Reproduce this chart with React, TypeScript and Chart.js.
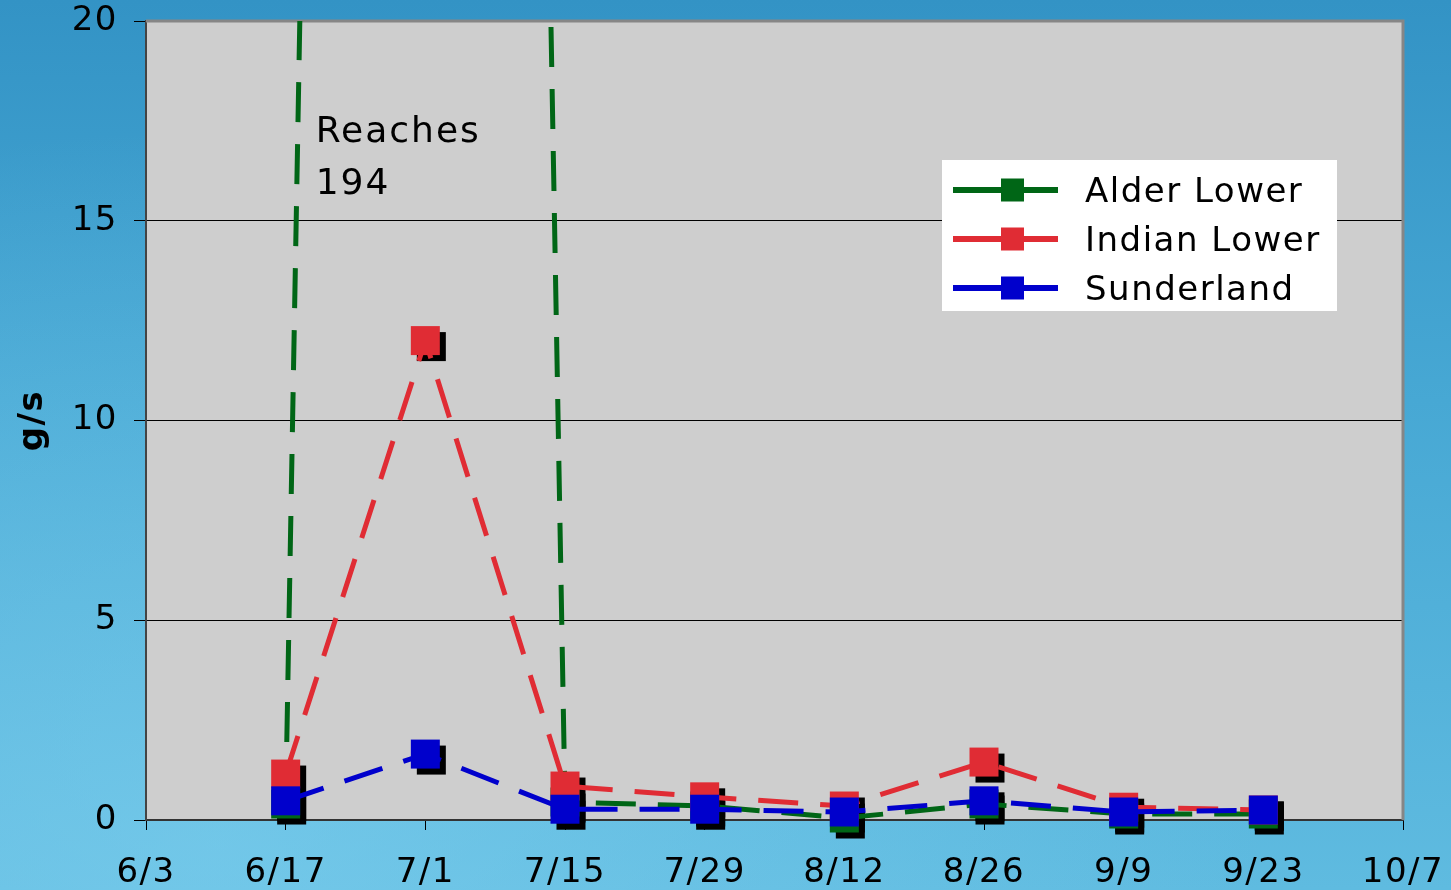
import React, { useEffect, useRef } from "react";
import { Chart, registerables } from "chart.js";

Chart.register(...registerables);

const tickLabels = ["6/3", "6/17", "7/1", "7/15", "7/29", "8/12", "8/26", "9/9", "9/23", "10/7"];
const alderLower = [null, 0.4, 194, 0.45, 0.35, 0.05, 0.4, 0.15, 0.15, null];
const indianLower = [null, 1.15, 12.0, 0.85, 0.58, 0.35, 1.45, 0.32, 0.25, null];
const sunderland = [null, 0.48, 1.65, 0.27, 0.27, 0.2, 0.48, 0.2, 0.25, null];
const seriesNames = ["Alder Lower", "Indian Lower", "Sunderland"];
const seriesColors = ["#006616", "#e02c34", "#0000cc"];
const yMin = 0;
const yMax = 20;
const yStep = 5;
const annotationLines = ["Reaches", "194"];
const yTitle = "g/s";

const FONT = '"DejaVu Sans", Verdana, sans-serif';

const bgPlugin = {
  id: "plotBg",
  beforeDraw(chart: any) {
    const { ctx, chartArea: ca } = chart;
    ctx.letterSpacing = "1.5px";
    ctx.save();
    ctx.fillStyle = "#cecece";
    ctx.fillRect(ca.left, ca.top, ca.right - ca.left, ca.bottom - ca.top);
    ctx.restore();
  },
  beforeDatasetsDraw(chart: any) {
    const { ctx, chartArea: ca } = chart;
    ctx.save();
    ctx.strokeStyle = "#868686";
    ctx.lineWidth = 3;
    ctx.beginPath();
    ctx.moveTo(ca.left, ca.top);
    ctx.lineTo(ca.right, ca.top);
    ctx.lineTo(ca.right, ca.bottom);
    ctx.stroke();
    // marker shadows
    ctx.fillStyle = "#000";
    chart.data.datasets.forEach((ds: any, i: number) => {
      const meta = chart.getDatasetMeta(i);
      meta.data.forEach((pt: any, j: number) => {
        const v = ds.data[j];
        if (v == null || v > yMax || v < yMin) return;
        ctx.fillRect(pt.x + 6 - 14.5, pt.y + 6 - 14.5, 29, 29);
      });
    });
    ctx.restore();
  },
  afterDraw(chart: any) {
    const { ctx, chartArea: ca, scales } = chart;
    ctx.save();
    // annotation
    ctx.letterSpacing = "2px";
    ctx.fillStyle = "#000";
    ctx.font = `36px ${FONT}`;
    ctx.textAlign = "left";
    ctx.textBaseline = "alphabetic";
    const ax = scales.x.getPixelForValue(1) + 30;
    annotationLines.forEach((t, i) => {
      ctx.fillText(t, ax, ca.top + 121 + i * 52);
    });
    // legend
    ctx.letterSpacing = "1.5px";
    const lx = 942, ly = 160, lw = 395, lh = 151;
    ctx.fillStyle = "#fff";
    ctx.fillRect(lx, ly, lw, lh);
    chart.data.datasets.forEach((ds: any, i: number) => {
      const cy = ly + 30 + i * 49;
      ctx.strokeStyle = ds.borderColor;
      ctx.lineWidth = 6;
      ctx.setLineDash([]);
      ctx.beginPath();
      ctx.moveTo(lx + 11, cy);
      ctx.lineTo(lx + 116, cy);
      ctx.stroke();
      ctx.fillStyle = ds.borderColor;
      ctx.fillRect(lx + 59, cy - 11.5, 23, 23);
      ctx.fillStyle = "#000";
      ctx.font = `34px ${FONT}`;
      ctx.fillText(ds.label, lx + 143, cy + 12);
    });
    ctx.restore();
  },
};

export default function App() {
  const ref = useRef<HTMLCanvasElement | null>(null);
  useEffect(() => {
    if (!ref.current) return;
    const mk = (label: string, data: any[], color: string, order: number) => ({
      label,
      data,
      borderColor: color,
      backgroundColor: color,
      borderWidth: 5,
      borderDash: [40, 22],
      borderCapStyle: "butt",
      pointStyle: "rect",
      pointRadius: 20.5,
      pointHoverRadius: 20.5,
      pointBorderWidth: 0,
      pointBackgroundColor: color,
      tension: 0,
      order,
      clip: { left: 40, top: 0, right: 40, bottom: 40 },
    });
    const chart = new Chart(ref.current, {
      type: "line",
      data: {
        labels: tickLabels,
        datasets: [
          mk(seriesNames[0], alderLower, seriesColors[0], 3),
          mk(seriesNames[1], indianLower, seriesColors[1], 2),
          mk(seriesNames[2], sunderland, seriesColors[2], 1),
        ] as any,
      },
      options: {
        animation: false,
        responsive: false,
        devicePixelRatio: 1,
        layout: { padding: { top: 21, right: 48, bottom: 0, left: 0 } },
        plugins: { legend: { display: false }, tooltip: { enabled: false } },
        events: [],
        scales: {
          x: {
            type: "category",
            offset: false,
            grid: { drawOnChartArea: false, color: "#000", tickColor: "#000", tickLength: 10, lineWidth: 1 },
            border: { color: "#333", width: 2 },
            ticks: { color: "#000", font: { family: FONT, size: 34 }, padding: 23, maxRotation: 0, autoSkip: false },
            afterFit: (s: any) => {
              s.height = 70;
              s.paddingLeft = 0;
              s.paddingRight = 0;
            },
          },
          y: {
            type: "linear",
            min: yMin,
            max: yMax,
            ticks: { stepSize: yStep, color: "#000", font: { family: FONT, size: 34 }, padding: 16 },
            grid: {
              color: (c: any) => (c.tick && c.tick.value > yMin && c.tick.value < yMax ? "#000" : "rgba(0,0,0,0)"),
              tickColor: "#000",
              tickLength: 12,
              lineWidth: 1,
            },
            border: { color: "#444", width: 2 },
            title: {
              display: true,
              text: yTitle,
              color: "#000",
              font: { family: FONT, size: 34, weight: "bold" },
              padding: { top: 13, bottom: 0 },
            },
            afterFit: (s: any) => {
              s.width = 146;
              s.paddingTop = 0;
              s.paddingBottom = 0;
            },
          },
        },
      } as any,
      plugins: [bgPlugin],
    });
    return () => chart.destroy();
  }, []);
  return (
    <div
      style={{
        position: "fixed",
        inset: 0,
        overflow: "hidden",
        background:
          "radial-gradient(ellipse at 15% 95%, rgba(130,210,240,0.55), rgba(130,210,240,0) 60%), linear-gradient(180deg, #3393c5 0%, #47a8d4 45%, #5fbbe0 100%)",
      }}
    >
      <canvas ref={ref} width={1451} height={890} style={{ display: "block", width: 1451, height: 890 }} />
    </div>
  );
}
